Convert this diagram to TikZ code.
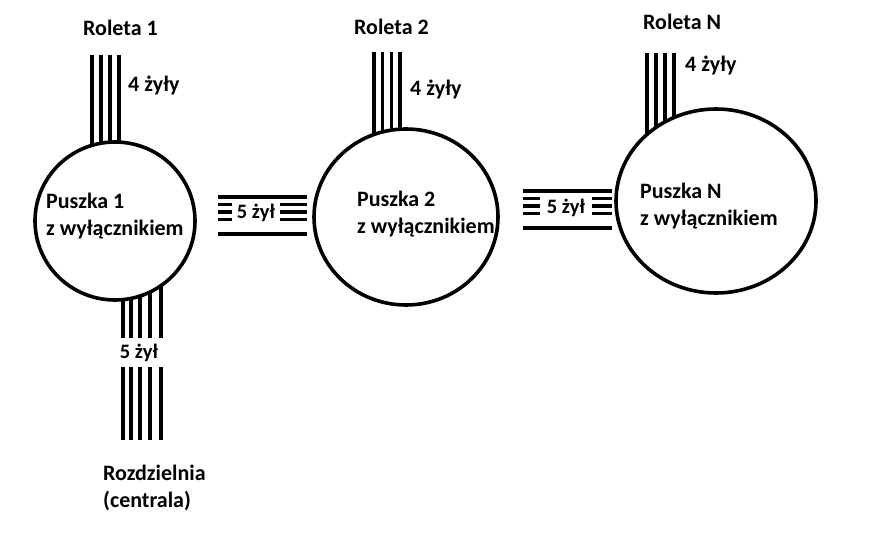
\documentclass[tikz,border=0pt]{standalone}
\usepackage{fontspec}
\setmainfont{Carlito}
\usetikzlibrary{shapes.geometric,backgrounds}
\begin{document}
\begin{tikzpicture}[x=1pt,y=-1pt,
  box/.style={draw, ellipse, line width=3.6pt, fill=white, inner sep=0pt},
  wire/.style={line width=3.8pt},
  txt/.style={font=\fontsize{22}{27}\selectfont\bfseries, inner sep=0pt, anchor=base west, align=left},
  lbl/.style={font=\fontsize{20.5}{24}\selectfont\bfseries, fill=white, inner sep=0pt},
]
\useasboundingbox (0,0) rectangle (880,540);

% junction boxes
\node[box, minimum width=160pt, minimum height=158pt] (c1) at (115,221) {};
\node[box, minimum width=184pt, minimum height=176pt] (c2) at (406,217) {};
\node[box, minimum width=200pt, minimum height=184pt] (cN) at (716,201) {};

% texts (anchor at baseline of the last line)
\node[txt] (p1) at (46,235) {Puszka 1\\z wyłącznikiem};
\node[txt] (p2) at (357,233) {Puszka 2\\z wyłącznikiem};
\node[txt] (pN) at (640,225) {Puszka N\\z wyłącznikiem};
\node[txt] (r1) at (83,36) {Roleta 1};
\node[txt] (r2) at (354,35) {Roleta 2};
\node[txt] (rN) at (643,30) {Roleta N};
\node[txt] (z1) at (128,92) {4 żyły};
\node[txt] (z2) at (410,96) {4 żyły};
\node[txt] (zN) at (685,72) {4 żyły};
\node[txt] (rz) at (103,507) {Rozdzielnia\\(centrala)};

% free ends of cables
\coordinate (t1) at (105.5,55);
\coordinate (t2) at (387,52);
\coordinate (tN) at (660.5,53);
\coordinate (b1) at (142,440);
\coordinate (h1a) at (218,0);
\coordinate (h1b) at (307,0);
\coordinate (h2a) at (523,0);
\coordinate (h2b) at (612,0);

% cable labels
\node[lbl, minimum width=48pt, minimum height=27pt] (l12) at (256,213) {5 żył};
\node[lbl, minimum width=52pt, minimum height=27pt] (l2N) at (566,208) {5 żył};
\node[lbl, minimum width=52pt, minimum height=29pt] (lb) at (139,352.5) {5 żył};

\begin{scope}[on background layer]
  \foreach \dx in {-13.5,-4.5,4.5,13.5}
    \draw[wire] ([xshift=\dx pt]t1) -- ([xshift=\dx pt]t1 |- c1.center);
  \foreach \dx in {-13,-4.5,4.5,13}
    \draw[wire] ([xshift=\dx pt]t2) -- ([xshift=\dx pt]t2 |- c2.center);
  \foreach \dx in {-13.5,-4.5,4.5,13.5}
    \draw[wire] ([xshift=\dx pt]tN) -- ([xshift=\dx pt]tN |- cN.center);
  \foreach \dx in {-19,-11,-2,8,19}
    \draw[wire] ([xshift=\dx pt]b1) -- ([xshift=\dx pt]b1 |- c1.center);
  \foreach \y in {197,204.5,212,219.5,234}
    \draw[wire] (h1a |- 0,\y) -- (h1b |- 0,\y);
  \foreach \y in {191,198.5,206,213.5,228}
    \draw[wire] (h2a |- 0,\y) -- (h2b |- 0,\y);
\end{scope}
\end{tikzpicture}
\end{document}
